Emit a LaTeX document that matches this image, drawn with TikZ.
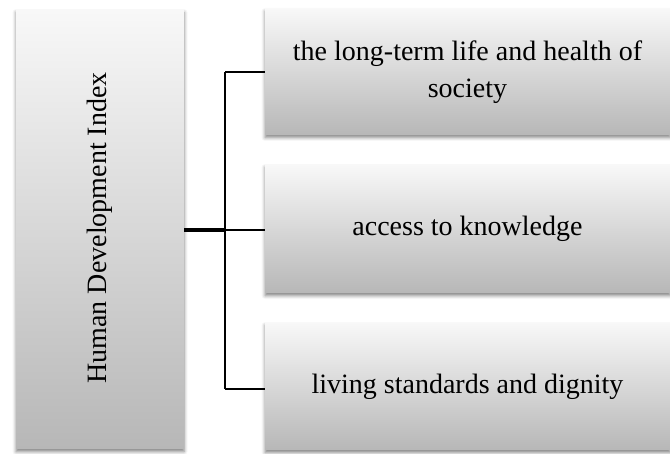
\documentclass[tikz,border=0pt]{standalone}
\usepackage{fontspec}
\setmainfont{Liberation Serif}
\usetikzlibrary{shadows.blur}
\definecolor{gtop}{HTML}{F8F8F8}
\definecolor{gbot}{HTML}{B7B7B7}
\begin{document}
\begin{tikzpicture}[x=1pt,y=-1pt,
  gbox/.style={rectangle, inner sep=0pt, outer sep=0pt, draw=none,
    top color=gtop, bottom color=gbot,
    blur shadow={shadow xshift=0pt, shadow yshift=-2.5pt, shadow blur radius=3.5pt, shadow opacity=50},
    font=\fontsize{28}{37}\selectfont, align=center, text=black},
  thinline/.style={line width=1.6pt, black},
  thickline/.style={line width=3.6pt, black}]
\useasboundingbox (0,0) rectangle (670,454);
\node[gbox, minimum width=168pt, minimum height=439pt] (hdi) at (100,229.5) {};
\node[rotate=90, font=\fontsize{28}{35}\selectfont] (hdit) at (100,228) {Human Development Index};
\node[gbox, minimum width=405pt, minimum height=126pt] (b1) at (467.5,72) {the long-term life and health of\\society};
\node[gbox, minimum width=405pt, minimum height=128pt] (b2) at (467.5,229) {access to knowledge};
\node[gbox, minimum width=405pt, minimum height=127pt] (b3) at (467.5,386.5) {living standards and dignity};
\coordinate (j) at (225,230);
\coordinate (t1) at (225,72);
\coordinate (t3) at (225,389);
\draw[thickline] (hdi.east |- j) -- (j);
\draw[thinline] (t1) -- (t3);
\draw[thinline] (t1) -- (t1 -| b1.west);
\draw[thinline] (j) -- (j -| b2.west);
\draw[thinline] (t3) -- (t3 -| b3.west);
\end{tikzpicture}
\end{document}
